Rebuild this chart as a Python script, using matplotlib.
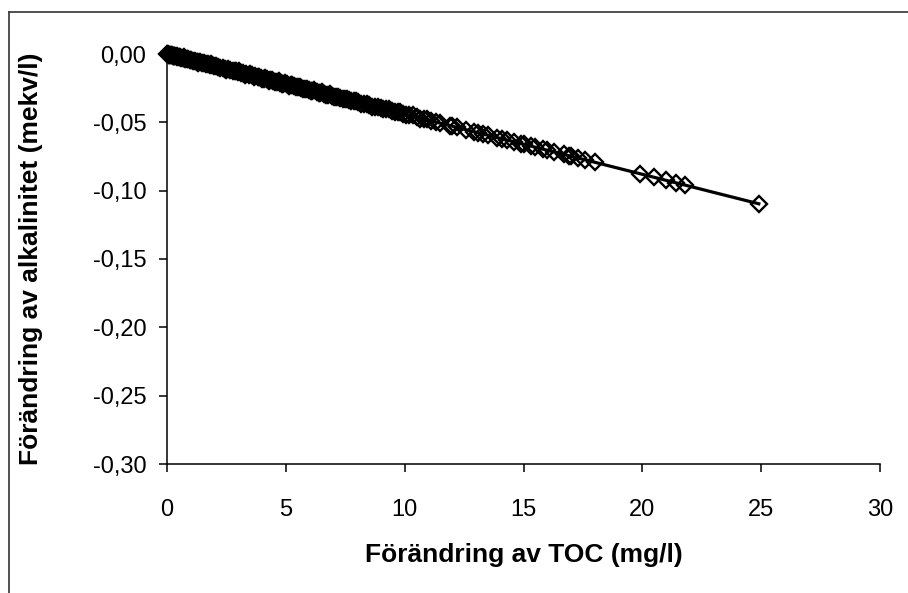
import matplotlib.pyplot as plt
from matplotlib.lines import Line2D

# Change in TOC (mg/l) vs change in alkalinity (mekv/l)
toc = [0.02, 0.05, 0.08, 0.1, 0.13, 0.16, 0.2, 0.24, 0.28, 0.31, 0.35, 0.4,
       0.44, 0.5, 0.55, 0.6, 0.66, 0.71, 0.77, 0.83, 0.9, 0.96, 1.02, 1.1,
       1.17, 1.25, 1.32, 1.4, 1.48, 1.55, 1.63, 1.72, 1.8, 1.9, 1.98, 2.07,
       2.15, 2.25, 2.35, 2.44, 2.55, 2.65, 2.76, 2.87, 2.98, 3.1, 3.2, 3.33,
       3.45, 3.57, 3.7, 3.82, 3.95, 4.08, 4.2, 4.35, 4.48, 4.62, 4.77, 4.9,
       5.05, 5.2, 5.34, 5.5, 5.65, 5.8, 5.96, 6.12, 6.3, 6.45, 6.6, 6.78,
       6.95, 7.1, 7.3, 7.48, 7.65, 7.85, 8.05, 8.3, 8.5, 8.75, 9.0, 9.2,
       9.45, 9.7, 9.95, 10.2, 10.5, 10.8, 11.1, 11.5, 11.9, 12.2, 12.6, 13.1,
       13.5, 13.9, 14.3, 14.6, 15.0, 15.5, 15.8, 16.3, 16.7, 17.0, 17.6, 18.0,
       19.9, 20.5, 21.0, 21.4, 21.8, 24.9]
alk = [-0.0001, -0.0002, -0.0004, -0.0004, -0.0006, -0.0007, -0.0009, -0.0011,
       -0.0012, -0.0014, -0.0015, -0.0018, -0.0019, -0.0022, -0.0024, -0.0026,
       -0.0029, -0.0031, -0.0034, -0.0037, -0.0040, -0.0042, -0.0045, -0.0048,
       -0.0051, -0.0055, -0.0058, -0.0062, -0.0065, -0.0068, -0.0072, -0.0076,
       -0.0079, -0.0084, -0.0087, -0.0091, -0.0095, -0.0099, -0.0103, -0.0107,
       -0.0112, -0.0117, -0.0121, -0.0126, -0.0131, -0.0136, -0.0141, -0.0147,
       -0.0152, -0.0157, -0.0163, -0.0168, -0.0174, -0.0180, -0.0185, -0.0191,
       -0.0197, -0.0203, -0.0210, -0.0216, -0.0222, -0.0229, -0.0235, -0.0242,
       -0.0249, -0.0255, -0.0262, -0.0269, -0.0277, -0.0284, -0.0290, -0.0298,
       -0.0306, -0.0312, -0.0321, -0.0329, -0.0337, -0.0345, -0.0354, -0.0365,
       -0.0374, -0.0385, -0.0396, -0.0405, -0.0416, -0.0427, -0.0438, -0.0449,
       -0.0462, -0.0475, -0.0488, -0.0506, -0.0524, -0.0537, -0.0554, -0.0576,
       -0.0594, -0.0612, -0.0629, -0.0642, -0.0660, -0.0682, -0.0695, -0.0717,
       -0.0735, -0.0748, -0.0774, -0.0792, -0.0876, -0.0902, -0.0924, -0.0942,
       -0.0959, -0.1096]

# more sites in the crowded part of the cloud
toc2 = [0.7, 1.3, 1.85, 2.5, 2.9, 3.05, 3.27, 3.5, 3.64, 3.88, 4.0, 4.14,
        4.28, 4.42, 4.55, 4.7, 4.84, 4.97, 5.12, 5.27, 5.42, 5.58, 5.73, 5.88,
        6.04, 6.2, 6.38, 6.52, 6.7, 6.86, 7.02, 7.2, 7.4, 7.56, 7.75, 7.95,
        8.18, 8.4, 8.62, 8.88, 9.1, 9.33, 9.58, 9.82, 10.05, 10.35, 10.65,
        10.95, 11.3, 12.0, 12.9, 13.3, 14.1, 14.9, 15.3, 16.0, 16.9, 17.3]
alk2 = [-0.0024, -0.0063, -0.0075, -0.0116, -0.0122, -0.0128, -0.0150, -0.0148,
        -0.0166, -0.0165, -0.0182, -0.0176, -0.0194, -0.0189, -0.0206, -0.0201,
        -0.0219, -0.0213, -0.0231, -0.0226, -0.0244, -0.0240, -0.0258, -0.0253,
        -0.0272, -0.0267, -0.0287, -0.0281, -0.0301, -0.0296, -0.0315, -0.0311,
        -0.0332, -0.0327, -0.0347, -0.0344, -0.0366, -0.0364, -0.0385, -0.0385,
        -0.0406, -0.0405, -0.0428, -0.0426, -0.0448, -0.0449, -0.0475, -0.0476,
        -0.0497, -0.0528, -0.0568, -0.0585, -0.0620, -0.0656, -0.0673, -0.0704,
        -0.0744, -0.0761]

# trend line end points
fit_x = [0, 24.9]
fit_y = [0, -0.1096]

xticks = [0, 5, 10, 15, 20, 25, 30]
yticks = [0.0, -0.05, -0.10, -0.15, -0.20, -0.25, -0.30]
ytick_labels = ['0,00', '-0,05', '-0,10', '-0,15', '-0,20', '-0,25', '-0,30']

plt.rcParams['font.family'] = ['Liberation Sans', 'DejaVu Sans']

fig = plt.figure(figsize=(9.08, 5.93), dpi=100)
ax = fig.add_axes([167 / 908, 129 / 593, 713 / 908, 410 / 593])

ax.plot(fit_x, fit_y, color='black', linewidth=2.3, zorder=2)
for xs, ys in [(toc, alk), (toc2, alk2)]:
    ax.plot(xs, ys, linestyle='none', marker='D', markersize=8.2,
            markerfacecolor='none', markeredgecolor='black',
            markeredgewidth=1.7, zorder=3, clip_on=False)

ax.set_xlim(0, 30)
ax.set_ylim(-0.30, 0.0)
ax.set_xticks(xticks)
ax.set_xticklabels([str(t) for t in xticks])
ax.set_yticks(yticks)
ax.set_yticklabels(ytick_labels)
ax.tick_params(direction='out', length=6, width=1.1, labelsize=17,
               colors='black')
ax.tick_params(axis='y', pad=9)
ax.tick_params(axis='x', pad=19)

for side in ['top', 'right']:
    ax.spines[side].set_visible(False)
for side in ['left', 'bottom']:
    ax.spines[side].set_linewidth(1.1)

ax.set_xlabel('Förändring av TOC (mg/l)', fontsize=19, fontweight='bold',
              labelpad=16)
ax.set_ylabel('Förändring av alkalinitet (mekv/l)', fontsize=19,
              fontweight='bold', labelpad=36)

# chart area border (only left and top are visible in the crop)
fig.add_artist(Line2D([9 / 908, 9 / 908], [0, 1 - 12 / 593],
                      color='#333333', linewidth=1.2))
fig.add_artist(Line2D([9 / 908, 1], [1 - 12 / 593, 1 - 12 / 593],
                      color='#333333', linewidth=1.2))

fig.savefig('out.png', dpi=100)
